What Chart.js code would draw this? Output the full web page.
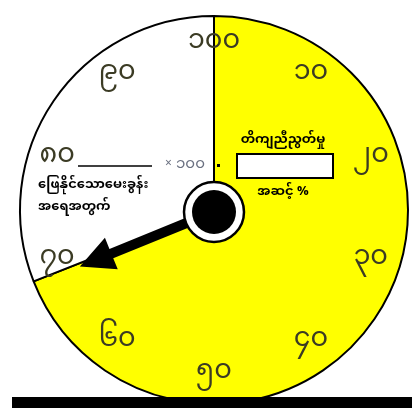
<!DOCTYPE html>
<html>
<head>
<meta charset="utf-8">
<script src="https://cdn.jsdelivr.net/npm/chart.js@4.4.1/dist/chart.umd.min.js"></script>
<style>
  html, body { margin: 0; padding: 0; background: #fff; }
  #wrap { position: relative; width: 412px; height: 408px; overflow: hidden; }
  #bar { position: absolute; left: 12px; top: 397px; width: 400px; height: 11px; background: #000; }
</style>
</head>
<body>
<div id="wrap">
  <canvas id="chart" width="412" height="408"></canvas>
  <div id="bar"></div>
</div>
<script>
// DATA
const segments = ["ရာခိုင်နှုန်း", "ကျန်"];
const segmentValues = [69, 31];
const tickValues = [10, 20, 30, 40, 50, 60, 70, 80, 90, 100];
const tickLabels = ["၁၀", "၂၀", "၃၀", "၄၀", "၅၀", "၆၀", "၇၀", "၈၀", "၉၀", "၁၀၀"];
const pointerValue = 69;

const MM_FONT = '"Noto Sans Myanmar", "Padauk", "Myanmar Text", "Noto Sans", sans-serif';

// dial extras: tick numbers, formula, pointer, hub
const dialPlugin = {
  id: "dial",
  afterDraw(chart) {
    const ctx = chart.ctx;
    const arc = chart.getDatasetMeta(0).data[0];
    const cx = arc.x, cy = arc.y, r = arc.outerRadius;
    const pos = (v, k) => {
      const a = (v / 100) * Math.PI * 2 - Math.PI / 2;
      return [cx + Math.cos(a) * r * k, cy + Math.sin(a) * r * k];
    };

    ctx.save();
    // tick numbers
    ctx.fillStyle = "#3b3b24";
    ctx.font = "27px " + MM_FONT;
    ctx.textAlign = "center";
    ctx.textBaseline = "middle";
    tickValues.forEach((v, i) => {
      const [x, y] = pos(v, 0.85);
      ctx.fillText(tickLabels[i], x, y);
    });

    // formula: fraction bar, x 100 =, answer box
    ctx.strokeStyle = "#000";
    ctx.lineWidth = 1.5;
    ctx.beginPath();
    ctx.moveTo(78, 166);
    ctx.lineTo(152, 166);
    ctx.stroke();

    ctx.fillStyle = "#6a7080";
    ctx.font = "12px " + MM_FONT;
    ctx.textAlign = "left";
    ctx.fillText("×", 165, 166);
    ctx.font = "15px " + MM_FONT;
    ctx.fillText("၁၀၀", 176, 166);
    ctx.fillStyle = "#000";
    ctx.fillRect(217, 164, 3, 3);

    ctx.fillStyle = "#fff";
    ctx.fillRect(237, 154, 96, 24);
    ctx.lineWidth = 2;
    ctx.strokeRect(237, 154, 96, 24);

    ctx.fillStyle = "#000";
    ctx.font = "bold 13px " + MM_FONT;
    ctx.textAlign = "center";
    ctx.fillText("တိကျညီညွတ်မှု", 283, 142);
    ctx.fillText("အဆင့် %", 283, 194);
    ctx.textAlign = "left";
    ctx.fillText("ဖြေနိုင်သောမေးခွန်း", 38, 187);
    ctx.fillText("အရေအတွက်", 38, 209);

    // pointer arrow
    const a = (pointerValue / 100) * Math.PI * 2 - Math.PI / 2 - 0.01;
    const ux = Math.cos(a), uy = Math.sin(a);
    const px = -uy, py = ux;
    const tipD = r * 0.73, headLen = 34, headW = 17, shaftW = 5;
    const ox = cx - 3, oy = cy + 3;
    const tx = ox + ux * tipD, ty = oy + uy * tipD;
    const bx = ox + ux * (tipD - headLen), by = oy + uy * (tipD - headLen);
    ctx.fillStyle = "#000";
    ctx.beginPath();
    ctx.moveTo(ox + px * shaftW, oy + py * shaftW);
    ctx.lineTo(bx + px * shaftW, by + py * shaftW);
    ctx.lineTo(bx + px * headW, by + py * headW);
    ctx.lineTo(tx, ty);
    ctx.lineTo(bx - px * headW, by - py * headW);
    ctx.lineTo(bx - px * shaftW, by - py * shaftW);
    ctx.lineTo(ox - px * shaftW, oy - py * shaftW);
    ctx.closePath();
    ctx.fill();

    // hub
    ctx.beginPath();
    ctx.arc(cx, cy + 2, 30, 0, Math.PI * 2);
    ctx.fillStyle = "#fff";
    ctx.fill();
    ctx.lineWidth = 2.5;
    ctx.strokeStyle = "#000";
    ctx.stroke();
    ctx.beginPath();
    ctx.arc(cx, cy + 2, 22, 0, Math.PI * 2);
    ctx.fillStyle = "#000";
    ctx.fill();
    ctx.restore();
  },
};

new Chart(document.getElementById("chart"), {
  type: "pie",
  data: {
    labels: segments,
    datasets: [{
      data: segmentValues,
      backgroundColor: ["#ffff00", "#ffffff"],
      borderColor: "#000",
      borderWidth: 2,
    }],
  },
  options: {
    responsive: false,
    animation: false,
    layout: { padding: { top: 15, bottom: 3, left: 19, right: 3 } },
    plugins: {
      legend: { display: false },
      tooltip: { enabled: false },
    },
  },
  plugins: [dialPlugin],
});
</script>
</body>
</html>
